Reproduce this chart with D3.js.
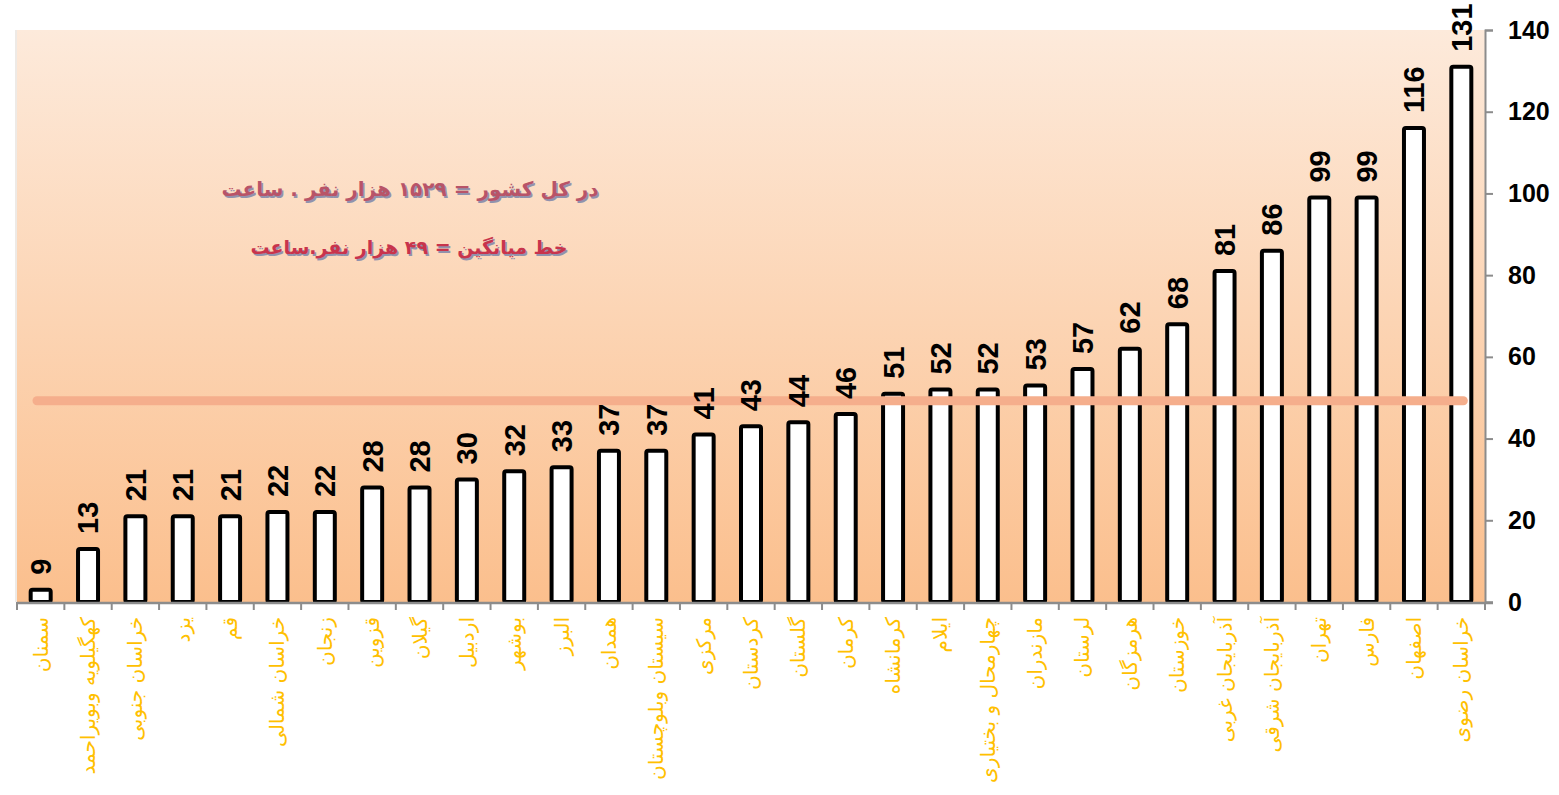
<!DOCTYPE html>
<html>
<head>
<meta charset="utf-8">
<script src="https://cdn.jsdelivr.net/npm/d3@7"></script>
<style>
  html, body { margin: 0; padding: 0; background: #fff; }
  svg { display: block; }
</style>
</head>
<body>
<svg id="chart"></svg>
<script>
// provinces, left to right
const categories = [
  "سمنان", "کهگیلویه وبویراحمد", "خراسان جنوبی", "یزد", "قم", "خراسان شمالی",
  "زنجان", "قزوین", "گیلان", "اردبیل", "بوشهر", "البرز", "همدان",
  "سیستان وبلوچستان", "مرکزی", "کردستان", "گلستان", "کرمان", "کرمانشاه",
  "ایلام", "چهارمحال و بختیاری", "مازندران", "لرستان", "هرمزگان", "خوزستان",
  "آذربایجان غربی", "آذربایجان شرقی", "تهران", "فارس", "اصفهان", "خراسان رضوی"
];
// bar heights as drawn (first bar is drawn short in the source)
const values = [3, 13, 21, 21, 21, 22, 22, 28, 28, 30, 32, 33, 37, 37, 41, 43, 44, 46,
  51, 52, 52, 53, 57, 62, 68, 81, 86, 99, 99, 116, 131];
// numbers printed above the bars
const valueLabels = ["9", "13", "21", "21", "21", "22", "22", "28", "28", "30", "32", "33",
  "37", "37", "41", "43", "44", "46", "51", "52", "52", "53", "57", "62", "68", "81", "86",
  "99", "99", "116", "131"];
const yTicks = [0, 20, 40, 60, 80, 100, 120, 140];
const meanValue = 49;
const noteLines = ["در کل کشور =  ۱۵۲۹ هزار نفر . ساعت", "خط میانگین =  ۴۹ هزار نفر.ساعت"];

const width = 1559, height = 795;
const plot = { left: 17, right: 1485, top: 30, bottom: 602 };

const svg = d3.select("#chart").attr("width", width).attr("height", height);

// background gradient
const defs = svg.append("defs");
const grad = defs.append("linearGradient")
  .attr("id", "bg").attr("x1", 0).attr("y1", 0).attr("x2", 0).attr("y2", 1);
grad.append("stop").attr("offset", "0%").attr("stop-color", "#fdeadb");
grad.append("stop").attr("offset", "100%").attr("stop-color", "#fbbf8d");

svg.append("rect")
  .attr("x", plot.left - 2).attr("y", plot.top)
  .attr("width", 2).attr("height", plot.bottom - plot.top)
  .attr("fill", "#eeeae6");
svg.append("rect")
  .attr("x", plot.left).attr("y", plot.top)
  .attr("width", plot.right - plot.left).attr("height", plot.bottom - plot.top)
  .attr("fill", "url(#bg)");

const x = d3.scaleBand()
  .domain(d3.range(categories.length))
  .range([plot.left, plot.right])
  .padding(0);

const y = d3.scaleLinear()
  .domain([0, 140])
  .range([plot.bottom, plot.top]);

const barW = 20;

// bars
svg.append("g").selectAll("rect")
  .data(values)
  .join("rect")
  .attr("x", (d, i) => x(i) + x.bandwidth() / 2 - barW / 2)
  .attr("y", d => y(d))
  .attr("width", barW)
  .attr("height", d => y(0) - y(d))
  .attr("rx", 2)
  .attr("fill", "#fff")
  .attr("stroke", "#000")
  .attr("stroke-width", 4);

// mean line
svg.append("line")
  .attr("x1", x(0) + 20).attr("x2", x(categories.length - 1) + x.bandwidth() / 2 + 2)
  .attr("y1", y(meanValue) - 1).attr("y2", y(meanValue) - 1)
  .attr("stroke", "#f5ae8c")
  .attr("stroke-width", 9)
  .attr("stroke-linecap", "round");

// value labels
svg.append("g").selectAll("text")
  .data(valueLabels)
  .join("text")
  .attr("transform", (d, i) =>
    `translate(${x(i) + x.bandwidth() / 2},${y(values[i]) - 15}) rotate(-90)`)
  .attr("dy", "0.36em")
  .attr("text-anchor", "start")
  .attr("font-family", "'Liberation Sans', Arial, sans-serif")
  .attr("font-weight", "bold")
  .attr("font-size", 29)
  .attr("fill", "#000")
  .text(d => d);

// x axis
const xAxis = svg.append("g");
xAxis.append("line")
  .attr("x1", plot.left).attr("x2", plot.right + 8)
  .attr("y1", plot.bottom + 1).attr("y2", plot.bottom + 1)
  .attr("stroke", "#8c8c8c").attr("stroke-width", 2.5);
xAxis.selectAll("line.tick")
  .data(d3.range(categories.length + 1))
  .join("line")
  .attr("class", "tick")
  .attr("x1", i => i < categories.length ? x(i) : plot.right)
  .attr("x2", i => i < categories.length ? x(i) : plot.right)
  .attr("y1", plot.bottom).attr("y2", plot.bottom + 8)
  .attr("stroke", "#8c8c8c").attr("stroke-width", 2);

// category labels
xAxis.selectAll("text")
  .data(categories)
  .join("text")
  .attr("transform", (d, i) =>
    `translate(${x(i) + x.bandwidth() / 2},${plot.bottom + 15}) rotate(-90)`)
  .attr("dy", "0.35em")
  .attr("text-anchor", "end")
  .attr("font-family", "'DejaVu Sans', sans-serif")
  .attr("font-size", 20)
  .attr("fill", "#ffc000")
  .text(d => d);

// y axis on the right
const yAxis = d3.axisRight(y)
  .tickValues(yTicks)
  .tickSize(8)
  .tickPadding(15);
const gy = svg.append("g")
  .attr("transform", `translate(${plot.right},0)`)
  .call(yAxis);
gy.select(".domain").attr("stroke", "#8c8c8c").attr("stroke-width", 2);
gy.selectAll(".tick line").attr("stroke", "#8c8c8c").attr("stroke-width", 2);
gy.selectAll(".tick text")
  .attr("font-family", "'Liberation Sans', Arial, sans-serif")
  .attr("font-weight", "bold")
  .attr("font-size", 25)
  .attr("fill", "#000");

// note text with soft shadow
const notes = [
  { text: noteLines[0], cx: 410, cy: 190, size: 20, fill: "#b85468" },
  { text: noteLines[1], cx: 409, cy: 248, size: 19, fill: "#c8344c" }
];
notes.forEach(n => {
  svg.append("text")
    .attr("x", n.cx + 1.5).attr("y", n.cy + 2)
    .attr("text-anchor", "middle").attr("dominant-baseline", "middle")
    .attr("font-family", "'DejaVu Sans', sans-serif")
    .attr("font-weight", "bold").attr("font-size", n.size)
    .attr("fill", "#7f86aa").attr("opacity", 0.85)
    .text(n.text);
  svg.append("text")
    .attr("x", n.cx).attr("y", n.cy)
    .attr("text-anchor", "middle").attr("dominant-baseline", "middle")
    .attr("font-family", "'DejaVu Sans', sans-serif")
    .attr("font-weight", "bold").attr("font-size", n.size)
    .attr("fill", n.fill)
    .text(n.text);
});
</script>
</body>
</html>
